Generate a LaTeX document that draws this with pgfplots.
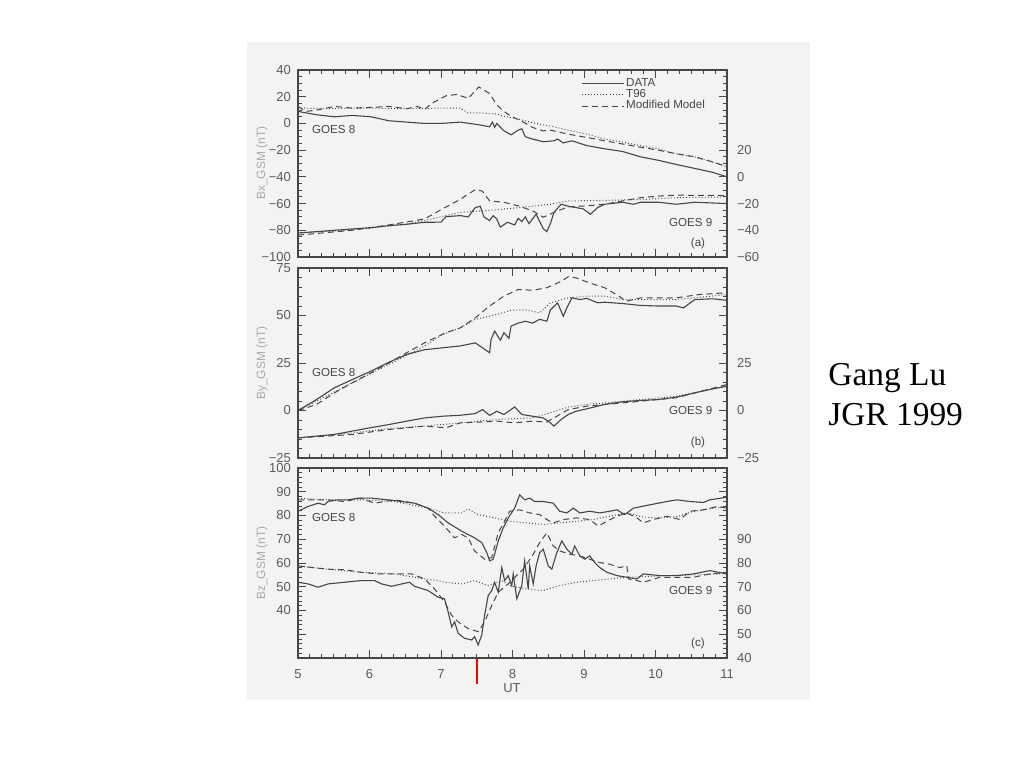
\documentclass[border=0pt]{standalone}
\usepackage{fontspec}
\setmainfont{Liberation Serif}
\newfontfamily\hel{Liberation Sans}
\usepackage{pgfplots}
\pgfplotsset{compat=1.18}
\definecolor{scan}{RGB}{243,243,241}
\definecolor{ink}{RGB}{70,70,70}
\definecolor{labc}{RGB}{90,90,90}
\definecolor{ylabc}{RGB}{170,170,170}
\newcommand\tfont{\hel\fontsize{6.5}{7.5}\selectfont}
\newcommand\yfont{\hel\fontsize{6}{7}\selectfont}
\newcommand\gfont{\hel\fontsize{5.8}{7}\selectfont}
\pgfplotsset{
  base/.style={scale only axis, width=214.5pt, xmin=5, xmax=11,
    axis line style={ink, line width=0.6pt},
    every tick/.style={ink, line width=0.5pt},
    major tick length=4pt, minor tick length=2pt,
    tick align=inside,
    tick label style={font=\tfont, text=labc},
    /pgf/number format/assume math mode=true,
    xtick={5,...,11}, minor x tick num=5},
  main/.style={base, xtick pos=both, ytick pos=left, xticklabels={}},
  rightax/.style={base, axis x line=none, axis y line*=right, ytick pos=right,
    axis line style={-}, y axis line style={-},
    yticklabel style={xshift=1.5pt}},
  d/.style={ink, line width=0.55pt},
  t/.style={ink, line width=0.5pt, dash pattern=on 0.45pt off 1.1pt},
  m/.style={ink, line width=0.5pt, dash pattern=on 3pt off 2pt},
}
\begin{document}
\begin{tikzpicture}
\fill[white] (0pt,0pt) rectangle (512pt,-384pt);
\fill[scan] (123.5pt,-21pt) rectangle (405pt,-350pt);

% ---------------- panel (a) ----------------
\begin{axis}[main, at={(149pt,-128.5pt)}, anchor=south west, height=93.5pt,
  ymin=-100, ymax=40, ytick={-100,-80,...,40},
  yticklabels={−100,−80,−60,−40,−20,0,20,40}, minor y tick num=3,
  legend style={at={(0.645,0.99)}, anchor=north west, draw=none, fill=none,
    font=\gfont, text=ink, row sep=-2pt, nodes={inner sep=1pt}},
  legend cell align=left,
  legend image code/.code={\draw[#1] (0pt,0pt) -- (21pt,0pt);}]
\addplot[d] coordinates {(5.00,9) (5.26,6.5) (5.51,5) (5.76,6) (6.02,5) (6.27,2) (6.52,1) (6.77,0) (7.00,0) (7.27,1) (7.53,-1) (7.68,-2.5) (7.72,1) (7.75,-3) (7.78,0) (7.88,-5.5) (7.98,-8.5) (8.08,-5) (8.13,-4) (8.18,-10) (8.28,-11.7) (8.43,-13.7) (8.58,-13) (8.63,-11.7) (8.71,-14.6) (8.83,-13) (9.04,-16.6) (9.29,-19) (9.54,-21) (9.79,-25) (10.04,-27.6) (10.29,-30.7) (10.55,-33.7) (10.80,-36.6) (11.00,-40)};
\addlegendentry{DATA}
\addplot[t] coordinates {(5.00,11.5) (5.5,11) (6.0,11.5) (6.5,11) (7.0,11.5) (7.27,11.5) (7.37,8) (7.53,8) (7.78,7) (7.88,5.4) (8.08,3.4) (8.28,0.5) (8.53,-2) (8.78,-5) (9.04,-8) (9.29,-11.7) (9.54,-14) (9.79,-16.6) (10.04,-19) (10.29,-22.7) (10.55,-25) (10.80,-29) (11.00,-32.4)};
\addlegendentry{T96}
\addplot[m] coordinates {(5.00,12.7) (5.11,9) (5.26,10) (5.51,12.7) (5.76,11.5) (6.02,12) (6.27,12.7) (6.52,11) (6.67,12.7) (6.77,10.5) (6.87,15) (7.07,20.7) (7.22,21.7) (7.38,18.8) (7.53,27.3) (7.68,22.4) (7.78,13.9) (7.88,9) (7.98,5.4) (8.13,1.7) (8.28,-3) (8.43,-5.6) (8.53,-5) (8.78,-8) (9.04,-10.5) (9.29,-13) (9.54,-15.4) (9.79,-17.8) (10.04,-20) (10.29,-22.7) (10.55,-25) (10.80,-28.8) (11.00,-32.4)};
\addlegendentry{Modified Model}
\end{axis}
\begin{axis}[rightax, at={(149pt,-128.5pt)}, anchor=south west, height=93.5pt,
  ymin=-60, ymax=80, ytick={-60,-40,...,80},
  yticklabels={−60,−40,−20,0,20,{},{},{}}, minor y tick num=3]
\addplot[d] coordinates {(5.00,-42) (5.26,-41) (5.51,-40) (5.76,-39) (6.02,-38) (6.27,-36.5) (6.52,-35.5) (6.77,-34) (7.00,-33.9) (7.07,-29.8) (7.27,-29) (7.38,-30) (7.48,-23) (7.55,-22) (7.60,-30) (7.68,-32.7) (7.73,-29) (7.78,-31.5) (7.83,-37.6) (7.93,-34) (8.03,-36) (8.08,-31) (8.13,-33.5) (8.18,-30) (8.23,-35) (8.33,-28) (8.43,-38.8) (8.48,-41) (8.53,-35) (8.58,-26.6) (8.68,-20.5) (8.78,-22) (8.89,-23) (8.99,-24) (9.09,-28) (9.19,-23) (9.29,-20.5) (9.54,-19) (9.69,-20.5) (9.79,-19) (10.04,-19) (10.29,-20.5) (10.55,-19) (11.00,-20)};
\addplot[t] coordinates {(5.00,-42) (5.5,-40.5) (6.0,-38.5) (6.5,-35.5) (6.77,-32.7) (7.27,-26.6) (7.78,-24.6) (8.28,-22) (8.53,-20.5) (8.78,-18) (9.29,-17.6) (9.79,-17) (10.29,-15.6) (11.00,-15)};
\addplot[m] coordinates {(5.00,-43.6) (5.76,-40) (6.27,-36) (6.77,-31.5) (7.02,-24) (7.27,-16.8) (7.48,-9.5) (7.58,-10.7) (7.68,-18) (7.88,-19) (8.08,-21.7) (8.28,-25.4) (8.43,-30.2) (8.58,-26.6) (8.78,-22.4) (9.04,-21.7) (9.29,-20.5) (9.54,-18) (9.79,-15.6) (10.04,-14.4) (10.29,-13.7) (11.00,-14)};
\end{axis}

% ---------------- panel (b) ----------------
\begin{axis}[main, at={(149pt,-229pt)}, anchor=south west, height=95pt,
  ymin=-25, ymax=75, ytick={-25,0,25,50,75},
  yticklabels={−25,0,25,50,75}, minor y tick num=4]
\addplot[d] coordinates {(5.00,0) (5.26,5.8) (5.51,12) (5.76,16.3) (6.02,20.7) (6.27,25.4) (6.52,29.5) (6.77,32) (7.02,33) (7.27,34) (7.48,35.6) (7.58,33) (7.68,30.4) (7.70,37.4) (7.75,41.8) (7.83,37) (7.88,41) (7.95,38) (7.98,44.4) (8.08,46) (8.18,47) (8.28,46) (8.38,48) (8.48,47) (8.53,53) (8.63,56.7) (8.71,49.6) (8.76,54) (8.83,59.3) (8.94,58.4) (9.04,59) (9.19,56.7) (9.29,57) (9.54,56.3) (9.79,55.3) (10.04,55) (10.29,55) (10.39,54) (10.55,58.4) (10.80,58.8) (11.00,58)};
\addplot[t] coordinates {(5.00,0) (5.76,14.6) (6.27,24.2) (6.77,33.9) (7.02,40) (7.27,43.5) (7.48,48) (7.78,50.5) (7.98,52.8) (8.18,53) (8.38,51.4) (8.53,56.7) (8.78,59.3) (9.04,60.2) (9.29,60.2) (9.54,58.4) (10.29,58.4) (11.00,61)};
\addplot[m] coordinates {(5.00,0) (5.26,3.2) (5.51,9.3) (5.76,14.6) (6.02,19.8) (6.27,25) (6.52,30.4) (6.77,35.6) (7.07,41) (7.27,43.5) (7.48,48.8) (7.68,55) (7.88,60.2) (8.08,63.7) (8.28,63.3) (8.48,64.6) (8.68,68) (8.78,70.4) (8.89,69.8) (9.09,67) (9.29,64.6) (9.49,60.2) (9.59,57.5) (9.79,59.3) (10.29,59.3) (10.60,61) (11.00,62)};
\end{axis}
\begin{axis}[rightax, at={(149pt,-229pt)}, anchor=south west, height=95pt,
  ymin=-25, ymax=75, ytick={-25,0,25,50,75},
  yticklabels={−25,0,25,{},{}}, minor y tick num=4]
\addplot[d] coordinates {(5.00,-14.4) (5.51,-12.6) (6.02,-9) (6.27,-7.4) (6.52,-5.6) (6.77,-3.9) (7.02,-3) (7.27,-2.5) (7.48,-1.6) (7.58,0.5) (7.68,-2.6) (7.78,-0.4) (7.88,-2.1) (7.98,0.5) (8.03,1.9) (8.13,-2.1) (8.28,-3) (8.43,-3.9) (8.53,-6.5) (8.58,-8.2) (8.68,-4.7) (8.78,-2.1) (8.89,-0.4) (9.04,0.9) (9.29,3.2) (9.54,4.6) (9.79,5.3) (10.04,5.8) (10.29,7) (10.55,9.3) (10.80,11.4) (11.00,12.8)};
\addplot[t] coordinates {(5.00,-14.4) (5.76,-11.8) (6.27,-9.5) (6.77,-8.2) (7.27,-6.5) (7.78,-4.7) (8.28,-3.9) (8.53,-1.2) (8.78,1.8) (9.04,3.2) (9.29,4) (9.79,5.8) (10.29,7.5) (11.00,12.8)};
\addplot[m] coordinates {(5.00,-14.4) (5.76,-12.6) (6.27,-10) (6.77,-8.2) (7.07,-9.1) (7.27,-6.5) (7.53,-6.1) (7.78,-5.6) (8.03,-6.5) (8.28,-5.6) (8.48,-6.1) (8.58,-3.9) (8.78,0.5) (9.04,2.3) (9.29,3.2) (9.54,4) (9.79,4.9) (10.29,6.7) (11.00,13.7)};
\end{axis}

% ---------------- panel (c) ----------------
\begin{axis}[main, at={(149pt,-329pt)}, anchor=south west, height=95pt,
  ymin=20, ymax=100, ytick={20,30,...,100},
  yticklabels={{},{},40,50,60,70,80,90,100}, minor y tick num=4,
  xticklabels={5,6,7,8,9,10,11}, xticklabel style={yshift=-2pt}]
\addplot[d] coordinates {(5.00,81.8) (5.14,83.8) (5.28,85.2) (5.37,84.5) (5.42,85.9) (5.56,86.6) (5.70,86.6) (5.84,87.3) (6.03,87.3) (6.26,86.6) (6.45,85.9) (6.63,85.2) (6.82,83.1) (6.96,80.4) (7.10,76.9) (7.29,73.4) (7.47,70.6) (7.57,68.6) (7.64,64.4) (7.68,60.9) (7.73,61.6) (7.75,63.7) (7.80,69.2) (7.87,74.8) (7.94,79.0) (8.03,83.1) (8.10,88.7) (8.17,86.6) (8.24,87.3) (8.31,85.9) (8.43,85.9) (8.57,85.2) (8.66,81.8) (8.76,81.1) (8.85,83.1) (8.94,81.1) (9.08,81.8) (9.22,81.1) (9.36,81.8) (9.46,82.4) (9.57,80.4) (9.69,83.1) (9.92,84.5) (10.16,85.9) (10.30,86.6) (10.48,85.9) (10.67,85.5) (10.76,86.6) (11.00,87.7)};
\addplot[t] coordinates {(5.00,87.3) (5.42,86.6) (5.88,86.6) (6.35,85.9) (6.82,83.1) (7.05,81.1) (7.29,81.1) (7.38,82.7) (7.52,80.4) (7.75,79.0) (7.96,77.6) (8.19,76.9) (8.43,76.2) (8.66,76.9) (8.90,77.6) (9.13,78.3) (9.36,79.7) (9.60,81.1) (9.80,79.5) (10.0,79) (10.3,79.5) (10.5,81.5) (10.8,83) (11.0,84)};
\addplot[m] coordinates {(5.00,86.6) (5.19,86.6) (5.42,86.6) (5.65,85.9) (5.88,87.3) (6.07,85.2) (6.35,86.6) (6.63,85.2) (6.82,83.1) (6.91,79.7) (7.05,75.5) (7.19,70.6) (7.29,72.0) (7.38,70.6) (7.47,65.1) (7.61,61.6) (7.71,62.3) (7.80,72.7) (7.89,77.6) (7.96,81.8) (8.10,82.4) (8.24,81.1) (8.38,80.4) (8.48,78.3) (8.57,76.9) (8.71,78.3) (8.90,79.0) (9.08,78.3) (9.20,75.5) (9.32,77.6) (9.46,79.7) (9.60,81.1) (9.74,79.0) (9.83,76.9) (9.97,78.3) (10.16,79.7) (10.34,78.3) (10.48,81.8) (10.67,82.4) (10.86,83.8) (11.00,83.1)};
\end{axis}
\begin{axis}[rightax, at={(149pt,-329pt)}, anchor=south west, height=95pt,
  ymin=40, ymax=120, ytick={40,50,...,120},
  yticklabels={40,50,60,70,80,90,{},{},{}}, minor y tick num=4]
\addplot[d] coordinates {(5.00,71.9) (5.14,71.2) (5.28,69.8) (5.42,71.2) (5.65,71.9) (5.88,72.6) (6.07,72.6) (6.17,71.2) (6.31,70.2) (6.45,71.2) (6.56,71.9) (6.63,70.2) (6.82,68.4) (6.96,65.6) (7.05,64.9) (7.10,59.4) (7.15,53.1) (7.19,55.2) (7.24,50.4) (7.33,48.3) (7.43,47.6) (7.47,49.0) (7.52,45.5) (7.57,49.7) (7.61,58.0) (7.66,66.3) (7.71,68.4) (7.75,71.9) (7.80,67.7) (7.85,78.1) (7.89,72.6) (7.94,74.7) (7.99,70.5) (8.01,75.4) (8.06,64.9) (8.13,70.5) (8.17,80.9) (8.22,69.1) (8.24,78.8) (8.29,71.2) (8.33,78.8) (8.38,84.4) (8.43,85.8) (8.50,78.8) (8.55,77.4) (8.62,84.4) (8.69,89.3) (8.76,85.8) (8.83,83.7) (8.87,87.2) (8.94,83.0) (9.01,81.6) (9.08,83.0) (9.15,80.2) (9.22,78.1) (9.32,76.1) (9.46,74.7) (9.60,74.0) (9.74,73.3) (9.83,75.4) (10.06,74.7) (10.30,74.7) (10.53,75.4) (10.76,76.8) (11.00,75.4)};
\addplot[t] coordinates {(5.00,78.8) (5.42,77.4) (5.88,76.1) (6.35,75.4) (6.77,73.3) (6.96,72.6) (7.05,71.9) (7.29,71.2) (7.47,72.6) (7.66,70.5) (7.85,72.6) (7.96,70.5) (8.19,69.1) (8.43,68.4) (8.66,70.5) (8.90,71.9) (9.13,72.6) (9.36,73.3) (9.60,74.0) (10.0,74.5) (10.5,75) (11.0,75.5)};
\addplot[m] coordinates {(5.00,78.8) (5.19,78.1) (5.42,77.4) (5.65,77.2) (5.88,76.1) (6.12,75.4) (6.35,75.4) (6.59,75.4) (6.77,73.3) (6.91,69.1) (7.05,63.6) (7.15,58.0) (7.24,55.2) (7.38,52.4) (7.52,51.1) (7.61,55.2) (7.71,62.2) (7.80,67.7) (7.94,71.2) (7.99,72.8) (8.15,77.4) (8.29,83.7) (8.38,88.6) (8.48,92.7) (8.57,87.2) (8.66,85.1) (8.80,83.7) (8.94,83.0) (9.08,81.6) (9.22,80.2) (9.36,79.5) (9.50,78.1) (9.60,78.8) (9.62,73.3) (9.74,72.6) (9.83,71.9) (10.06,74.0) (10.30,74.0) (10.53,74.0) (10.76,75.4) (11.00,76.1)};
\end{axis}

% ---------------- annotations ----------------
\node[rotate=90, font=\yfont, text=ylabc] at (131pt,-81.5pt) {Bx\_GSM (nT)};
\node[rotate=90, font=\yfont, text=ylabc] at (131pt,-181.5pt) {By\_GSM (nT)};
\node[rotate=90, font=\yfont, text=ylabc] at (131pt,-281.5pt) {Bz\_GSM (nT)};
\node[font=\tfont, text=labc] at (256pt,-344pt) {UT};
\draw[red, line width=0.8pt] (238.5pt,-329.5pt) -- (238.5pt,-342pt);

\node[font=\gfont, text=ink, anchor=west] at (152.5pt,-64.5pt) {GOES 8};
\node[font=\gfont, text=ink, anchor=west] at (331pt,-111pt) {GOES 9};
\node[font=\gfont, text=ink] at (349pt,-121.5pt) {(a)};
\node[font=\gfont, text=ink, anchor=west] at (152.5pt,-186pt) {GOES 8};
\node[font=\gfont, text=ink, anchor=west] at (331pt,-205pt) {GOES 9};
\node[font=\gfont, text=ink] at (349pt,-221pt) {(b)};
\node[font=\gfont, text=ink, anchor=west] at (152.5pt,-258.5pt) {GOES 8};
\node[font=\gfont, text=ink, anchor=west] at (331pt,-295pt) {GOES 9};
\node[font=\gfont, text=ink] at (349pt,-321.5pt) {(c)};

\node[font=\fontsize{16.7}{20}\selectfont, anchor=base west, inner sep=0pt] at (414pt,-192.5pt) {Gang Lu};
\node[font=\fontsize{16.7}{20}\selectfont, anchor=base west, inner sep=0pt] at (414pt,-212.5pt) {JGR 1999};
\end{tikzpicture}
\end{document}
